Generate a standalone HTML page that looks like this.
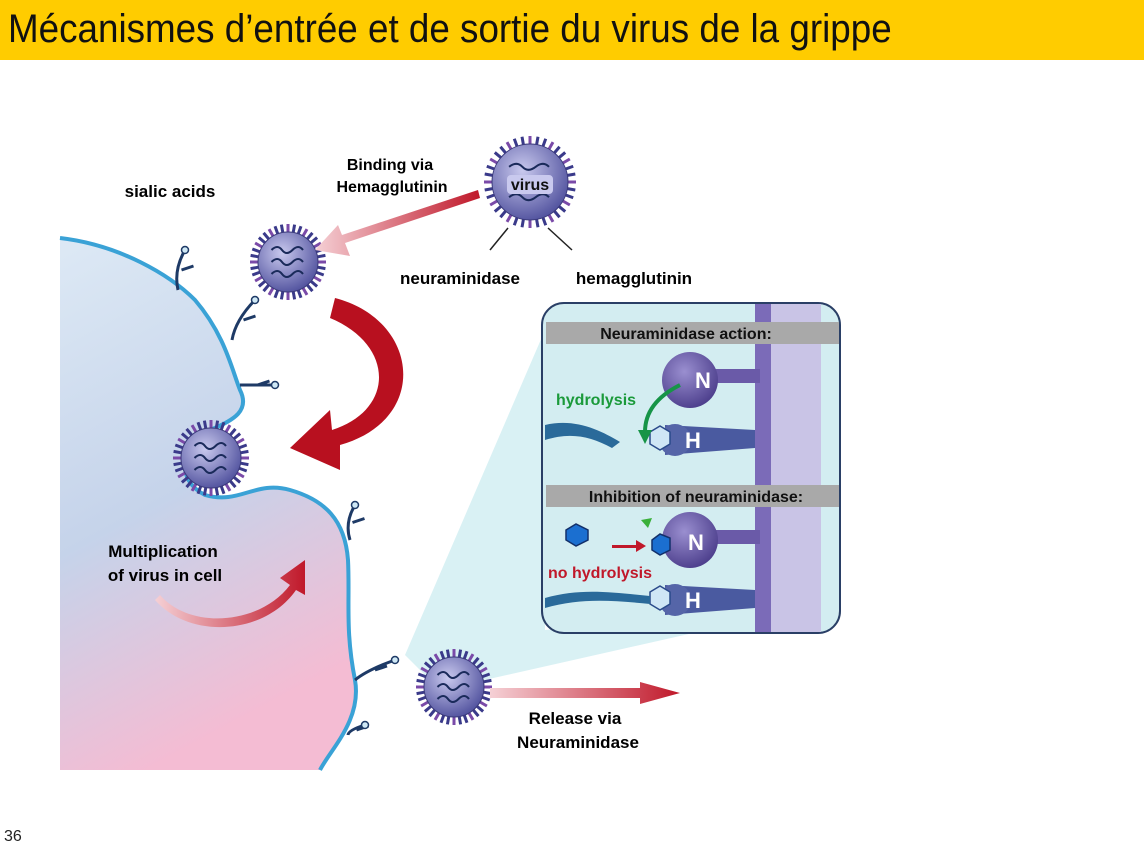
<!DOCTYPE html>
<html><head><meta charset="utf-8"><style>
html,body{margin:0;padding:0;background:#fff;}
#root{position:relative;width:1144px;height:844px;overflow:hidden;font-family:"Liberation Sans",Arial,sans-serif;}
#title{position:absolute;left:0;top:0;width:1144px;height:60px;background:#ffcc00;}
#title span{position:absolute;left:8px;top:7px;font-size:40px;color:#111;white-space:nowrap;transform:scaleX(0.92);transform-origin:left top;}
#pg{position:absolute;left:4px;top:828px;font-size:16px;color:#222;}
svg text{font-family:"Liberation Sans",Arial,sans-serif;font-weight:bold;}
</style></head><body>
<div id="root">
<div id="title"><span>Mécanismes d’entrée et de sortie du virus de la grippe</span></div>
<svg id="d" width="1144" height="844" style="position:absolute;left:0;top:0">
<defs>
<linearGradient id="cellg" x1="0" y1="0" x2="0.3" y2="1">
<stop offset="0" stop-color="#dde9f5"/><stop offset="0.55" stop-color="#c5d3ea"/><stop offset="1" stop-color="#f4bcd3"/></linearGradient>
<radialGradient id="vg" cx="0.4" cy="0.35" r="0.7"><stop offset="0" stop-color="#c9c9ee"/><stop offset="1" stop-color="#4e4f9c"/></radialGradient>
<radialGradient id="ng" cx="0.4" cy="0.35" r="0.7"><stop offset="0" stop-color="#9a8fd0"/><stop offset="1" stop-color="#4a3c8a"/></radialGradient>
<linearGradient id="ar" x1="0" x2="1"><stop offset="0" stop-color="#f5d0d5"/><stop offset="1" stop-color="#c0182a"/></linearGradient>
</defs>
<path d="M405,655 L545,330 L545,630 L840,600 L440,690 Z" fill="#d9f1f4"/>
<path d="M60,238 C120,245 170,275 195,300 C225,335 232,370 240,390 C250,410 235,420 210,430 C180,445 175,480 205,495 C240,505 255,480 290,490 C325,500 345,520 348,560 C350,600 345,630 355,680 C362,720 330,750 320,770 L60,770 Z" fill="url(#cellg)"/>
<path d="M60,238 C120,245 170,275 195,300 C225,335 232,370 240,390 C250,410 235,420 210,430 C180,445 175,480 205,495 C240,505 255,480 290,490 C325,500 345,520 348,560 C350,600 345,630 355,680 C362,720 330,750 320,770" fill="none" stroke="#3aa2d6" stroke-width="4"/>
<g id="stalks" stroke="#1e3a66" stroke-width="3" fill="none"></g>
<g id="viruses"></g>
<path d="M480,198 L345,243 L350,256 L315,250 L338,225 L342,235 L478,190 Z" fill="url(#ar)"/>
<path d="M335,298 C420,320 430,420 340,445 L340,470 L290,448 L330,410 L332,430 C395,410 395,345 330,318 Z" fill="#b8101f"/>
<path d="M160,595 C190,630 260,625 290,585 L280,578 L305,560 L305,595 L296,590 C265,635 190,640 155,600 Z" fill="url(#ar)"/>
<path d="M490,688 L640,688 L640,682 L680,693 L640,704 L640,698 L490,698 Z" fill="url(#ar)"/>
<text x="170" y="197" font-size="17" text-anchor="middle">sialic acids</text>
<text x="390" y="170" font-size="16" text-anchor="middle">Binding via</text>
<text x="392" y="192" font-size="16" text-anchor="middle">Hemagglutinin</text>
<text x="460" y="284" font-size="17" text-anchor="middle">neuraminidase</text>
<text x="634" y="284" font-size="17" text-anchor="middle">hemagglutinin</text>
<text x="163" y="557" font-size="17" text-anchor="middle">Multiplication</text>
<text x="165" y="581" font-size="17" text-anchor="middle">of virus in cell</text>
<text x="575" y="724" font-size="17" text-anchor="middle">Release via</text>
<text x="578" y="748" font-size="17" text-anchor="middle">Neuraminidase</text>
<g>
<rect x="542" y="303" width="298" height="330" rx="22" fill="#d3edf1" stroke="#2a3f66" stroke-width="2"/>
<rect x="755" y="304" width="16" height="328" fill="#7b6bb8"/>
<rect x="771" y="304" width="50" height="328" fill="#c9c4e6"/>
<rect x="546" y="322" width="293" height="22" fill="#a9a9a9"/>
<rect x="546" y="485" width="293" height="22" fill="#a9a9a9"/>
<text x="686" y="339" font-size="16" text-anchor="middle" fill="#111">Neuraminidase action:</text>
<text x="696" y="502" font-size="16" text-anchor="middle" fill="#111">Inhibition of neuraminidase:</text>
<rect x="715" y="369" width="45" height="14" fill="#6a5aa8"/>
<circle cx="690" cy="380" r="28" fill="url(#ng)"/>
<text x="695" y="388" font-size="22" fill="#fff">N</text>
<path d="M665,425 L755,430 L755,448 L665,455 Z" fill="#4a5aa0"/><circle cx="675" cy="440" r="16" fill="#5565a8"/>
<text x="685" y="448" font-size="22" fill="#fff">H</text>
<polygon points="650,432 660,426 670,432 670,444 660,450 650,444" fill="#cfe6f5" stroke="#2a4a8a" stroke-width="1.5"/>
<path d="M545,425 C575,418 600,430 620,442 L612,448 C590,436 570,432 545,440 Z" fill="#2a6a9a"/>
<path d="M680,385 C660,395 645,410 645,432" stroke="#169447" stroke-width="4" fill="none"/><path d="M638,430 L645,444 L652,430 Z" fill="#169447"/>
<text x="556" y="405" font-size="16" fill="#1a9a3a">hydrolysis</text>
<rect x="715" y="530" width="45" height="14" fill="#6a5aa8"/>
<circle cx="690" cy="540" r="28" fill="url(#ng)"/>
<text x="688" y="550" font-size="22" fill="#fff">N</text>
<polygon points="652,540 660,534 670,538 670,550 660,555 652,550" fill="#1b6fd0" stroke="#12306a" stroke-width="1.5"/>
<polygon points="566,530 576,524 588,530 588,540 576,546 566,540" fill="#1b6fd0" stroke="#12306a" stroke-width="1.5"/>
<polygon points="641,520 652,518 648,528" fill="#3ab03a"/>
<path d="M612,545 L636,545 L636,540 L646,546 L636,552 L636,548 L612,548 Z" fill="#c0182a"/>
<text x="548" y="578" font-size="16" fill="#c0182a">no hydrolysis</text>
<path d="M665,585 L755,590 L755,608 L665,615 Z" fill="#4a5aa0"/><circle cx="675" cy="600" r="16" fill="#5565a8"/>
<text x="685" y="608" font-size="22" fill="#fff">H</text>
<polygon points="650,592 660,586 670,592 670,604 660,610 650,604" fill="#cfe6f5" stroke="#2a4a8a" stroke-width="1.5"/>
<path d="M545,598 C580,588 610,592 650,596 L650,604 C610,600 580,598 545,608 Z" fill="#2a6a9a"/>
</g>
</svg>
<div id="pg">36</div>
</div>
<script>
const NS="http://www.w3.org/2000/svg";
const vir=document.getElementById('viruses');
const vs=[[530,182,38,'virus-top'],[288,262,30,'virus-binding'],[211,458,30,'virus-endocytosed'],[454,687,30,'virus-released']];
vs.forEach(v=>{
 const g=document.createElementNS(NS,'g');
 
 
 for(let i=0;i<36;i++){
  const a=i/36*Math.PI*2;
  const l=document.createElementNS(NS,'line');
  l.setAttribute('x1',v[0]+Math.cos(a)*v[2]);l.setAttribute('y1',v[1]+Math.sin(a)*v[2]);
  l.setAttribute('x2',v[0]+Math.cos(a)*(v[2]+8));l.setAttribute('y2',v[1]+Math.sin(a)*(v[2]+8));
  l.setAttribute('stroke',i%3?'#3a3a8a':'#7a4aa8');l.setAttribute('stroke-width','3');
  g.appendChild(l);
 }
 const c=document.createElementNS(NS,'circle');
 c.setAttribute('cx',v[0]);c.setAttribute('cy',v[1]);c.setAttribute('r',v[2]);
 c.setAttribute('fill','url(#vg)');c.setAttribute('stroke','#3a3a7a');
 g.appendChild(c);
 for(let k=0;k<3;k++){
  const p=document.createElementNS(NS,'path');
  const y=v[1]-v[2]*0.4+k*v[2]*0.4,x=v[0]-v[2]*0.55;
  p.setAttribute('d',`M${x},${y} q${v[2]*0.2},-6 ${v[2]*0.35},0 t${v[2]*0.35},0 t${v[2]*0.35},0`);
  p.setAttribute('stroke','#1a2a5a');p.setAttribute('stroke-width','2');p.setAttribute('fill','none');
  g.appendChild(p);
 }
 vir.appendChild(g);
});
const vb=document.createElementNS(NS,'rect');
vb.setAttribute('x',507);vb.setAttribute('y',175);vb.setAttribute('width',46);vb.setAttribute('height',19);vb.setAttribute('rx',4);vb.setAttribute('fill','#c9c9ee');


vir.appendChild(vb);
const vt=document.createElementNS(NS,'text');
vt.setAttribute('x',530);vt.setAttribute('y',190);vt.setAttribute('font-size','16');vt.setAttribute('text-anchor','middle');vt.setAttribute('fill','#111');


vt.textContent='virus';vir.appendChild(vt);
[[508,228,490,250],[548,228,572,250]].forEach(q=>{
 const l=document.createElementNS(NS,'line');
 l.setAttribute('x1',q[0]);l.setAttribute('y1',q[1]);l.setAttribute('x2',q[2]);l.setAttribute('y2',q[3]);l.setAttribute('stroke','#222');l.setAttribute('stroke-width','1.5');
 vir.appendChild(l);
});
const st=document.getElementById('stalks');
const stalks=[[178,290,185,250],[232,340,255,300],[240,385,275,385],[350,540,355,505],[355,680,395,660],[348,735,365,725]];
stalks.forEach(s=>{
 const p=document.createElementNS(NS,'path');
 p.setAttribute('d',`M${s[0]},${s[1]} Q${(s[0]+s[2])/2-8},${(s[1]+s[3])/2} ${s[2]},${s[3]} M${(s[0]+s[2])/2},${(s[1]+s[3])/2} l12,-4`);
 st.appendChild(p);
 const c=document.createElementNS(NS,'circle');
 c.setAttribute('cx',s[2]);c.setAttribute('cy',s[3]);c.setAttribute('r',3.5);c.setAttribute('fill','#cfe8f5');c.setAttribute('stroke','#1e3a66');c.setAttribute('stroke-width','1.5');
 st.appendChild(c);
});
</script>
</body></html>
